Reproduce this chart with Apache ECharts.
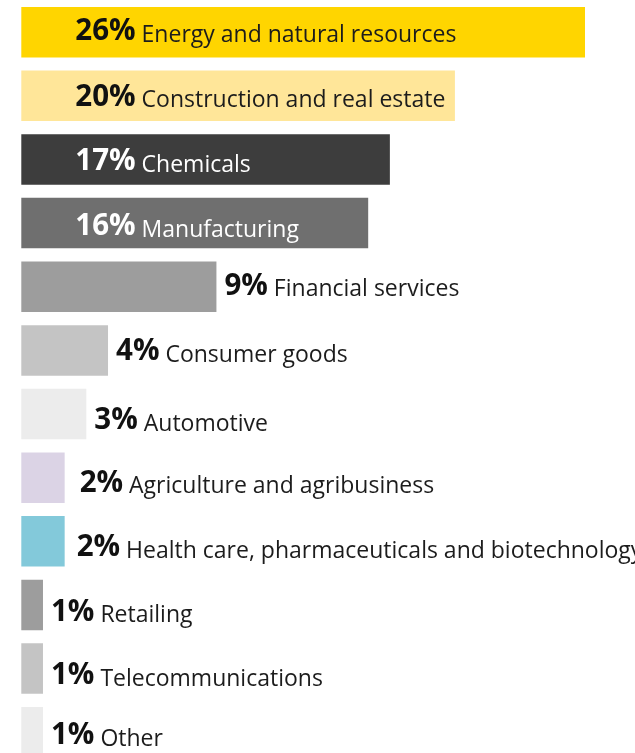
<!DOCTYPE html>
<html>
<head>
<meta charset="utf-8">
<title>Share by sector</title>
<script src="https://cdn.jsdelivr.net/npm/echarts@6/dist/echarts.min.js"></script>
<style>
  html, body { margin: 0; padding: 0; background: #ffffff; overflow: hidden; height: 753px; }
  #chart { width: 635px; height: 753px; }
</style>
</head>
<body>
<div id="chart"></div>
<script>
// Sectors, top to bottom
const sectors = [
  'Energy and natural resources',
  'Construction and real estate',
  'Chemicals',
  'Manufacturing',
  'Financial services',
  'Consumer goods',
  'Automotive',
  'Agriculture and agribusiness',
  'Health care, pharmaceuticals and biotechnology',
  'Retailing',
  'Telecommunications',
  'Other'
];

// Share of each sector, percent
const shares = [26, 20, 17, 16, 9, 4, 3, 2, 2, 1, 1, 1];

// Bar fill per sector
const barColors = [
  '#FFD500', '#FFE699', '#3D3D3D', '#6F6F6F', '#9D9D9D', '#C4C4C4',
  '#ECECEC', '#DBD3E5', '#83C9DA', '#9D9D9D', '#C4C4C4', '#ECECEC'
];

// Label text colour per sector (labels of the long bars sit inside them)
const labelColors = [
  '#111111', '#111111', '#FFFFFF', '#FFFFFF', '#111111', '#111111',
  '#111111', '#111111', '#111111', '#111111', '#111111', '#111111'
];

// Small per-label nudges [dx, dy] in pixels
const labelNudge = [
  [0, 0], [0, 2], [0, 3], [0, 4], [0, 0], [0, 2],
  [0, 7], [7, 6], [4, 7], [0, 8], [0, 8], [0, 4]
];

// Bars at least this long carry their label inside
const insideFrom = 15;

const chart = echarts.init(document.getElementById('chart'), null, { renderer: 'canvas' });

const data = shares.map((v, i) => {
  const inside = v >= insideFrom;
  return {
    value: v,
    itemStyle: { color: barColors[i] },
    label: {
      show: true,
      position: inside ? 'insideLeft' : 'right',
      distance: inside ? 54 : 8,
      offset: labelNudge[i],
      color: labelColors[i],
      rich: {
        p: {
          fontFamily: 'Open Sans',
          fontWeight: 'bold',
          fontSize: 29.5,
          lineHeight: 29,
          color: labelColors[i],
          verticalAlign: 'bottom'
        },
        n: {
          fontFamily: 'Open Sans',
          fontSize: 23,
          lineHeight: 23,
          color: labelColors[i] === '#111111' ? '#1c1c1c' : '#FFFFFF',
          verticalAlign: 'bottom'
        }
      }
    }
  };
});

chart.setOption({
  animation: false,
  backgroundColor: '#ffffff',
  grid: {
    left: 21.3,
    top: 0.4,
    width: 563.7,
    height: 763.6,
    outerBoundsMode: 'none',
    containLabel: false
  },
  xAxis: {
    type: 'value',
    min: 0,
    max: 26,
    show: false
  },
  yAxis: {
    type: 'category',
    data: sectors,
    inverse: true,
    show: false
  },
  series: [{
    type: 'bar',
    data: data,
    barWidth: 50.5,
    label: {
      show: true,
      overflow: 'none',
      formatter: p => '{p|' + p.value + '%}{n| ' + p.name + '}'
    }
  }]
});
</script>
</body>
</html>
